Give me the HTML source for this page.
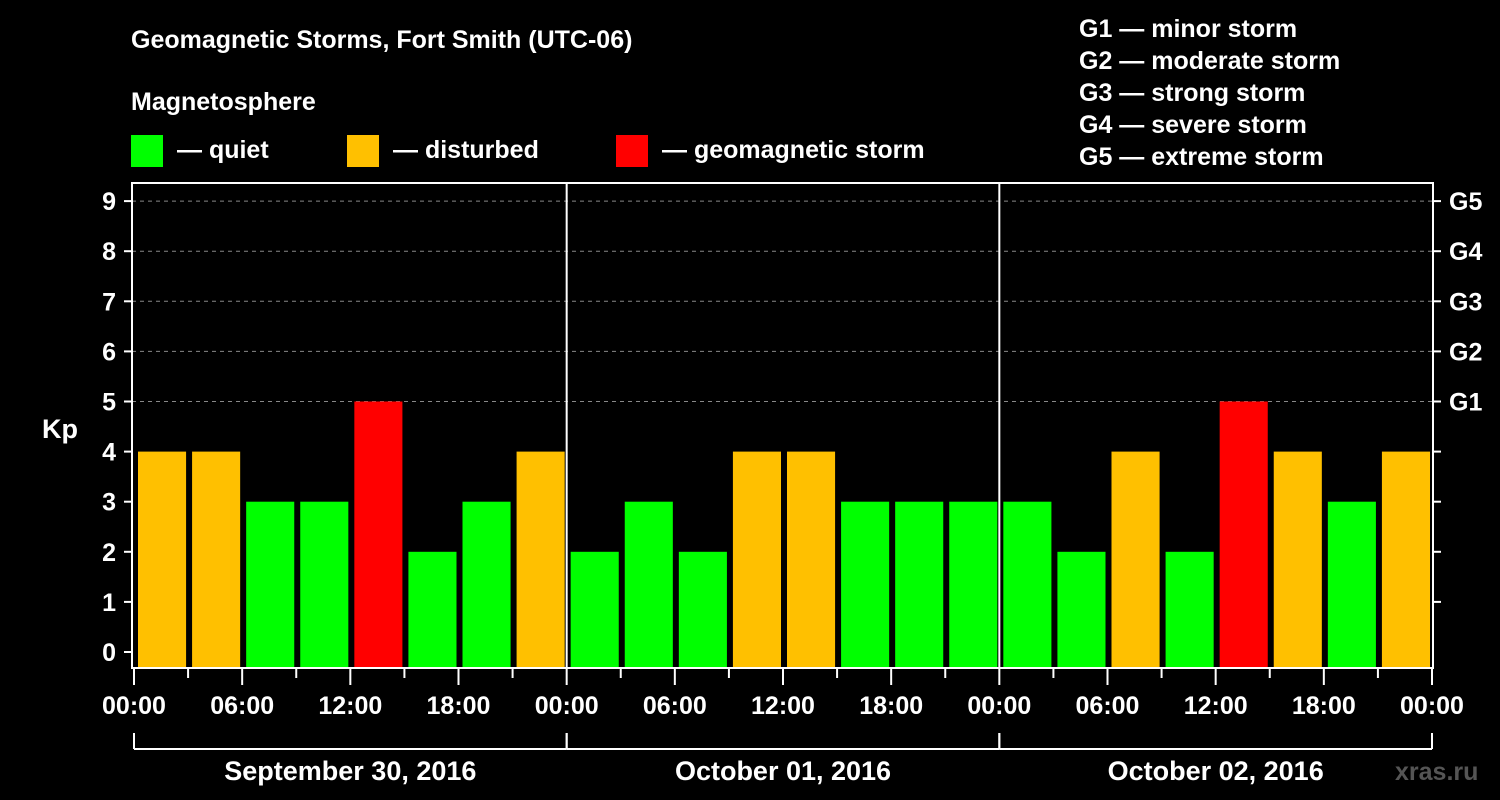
<!DOCTYPE html>
<html><head><meta charset="utf-8"><style>
html,body{margin:0;padding:0;background:#000;}
svg{display:block;font-family:"Liberation Sans",Arial,sans-serif;font-weight:bold;}
</style></head><body>
<svg id="c" width="1500" height="800" xmlns="http://www.w3.org/2000/svg">
<rect width="1500" height="800" fill="#000"/>
<text x="131" y="48" fill="#fff" font-size="25">Geomagnetic Storms, Fort Smith (UTC-06)</text>
<text x="131" y="110" fill="#fff" font-size="25">Magnetosphere</text>
<g><rect x="131" y="135" width="32" height="32" fill="#00ff00"/><text x="177" y="158" fill="#fff" font-size="25">— quiet</text></g>
<g><rect x="347" y="135" width="32" height="32" fill="#ffc000"/><text x="393" y="158" fill="#fff" font-size="25">— disturbed</text></g>
<g><rect x="616" y="135" width="32" height="32" fill="#ff0000"/><text x="662" y="158" fill="#fff" font-size="25">— geomagnetic storm</text></g>
<g fill="#fff" font-size="25">
<text x="1079" y="37">G1 — minor storm</text>
<text x="1079" y="69">G2 — moderate storm</text>
<text x="1079" y="101">G3 — strong storm</text>
<text x="1079" y="133">G4 — severe storm</text>
<text x="1079" y="165">G5 — extreme storm</text>
</g>
<text x="42" y="438" fill="#fff" font-size="27">Kp</text>
<text x="1395" y="780" fill="#555" font-size="25">xras.ru</text>
<g id="plot"></g>
</svg>
<script>
const kpValues = [4,4,3,3,5,2,3,4, 2,3,2,4,4,3,3,3, 3,2,4,2,5,4,3,4];
const dayLabels = ["September 30, 2016","October 01, 2016","October 02, 2016"];
const hourLabels = ["00:00","06:00","12:00","18:00"];
const kpTicks = [0,1,2,3,4,5,6,7,8,9];
const gLabels = ["G1","G2","G3","G4","G5"];
const NS="http://www.w3.org/2000/svg";
const g=document.getElementById('plot');
const L=132,R=1433,T=183,B=668;
const x0=134,x1=1432;
const slot=(x1-x0)/kpValues.length;
const X=i=>x0+i*slot;
const Y=k=>652-k*50.1;
function mk(tag,attrs){const e=document.createElementNS(NS,tag);for(const k in attrs)e.setAttribute(k,attrs[k]);g.appendChild(e);return e;}
// grid
for(let k=5;k<=9;k++){const e=mk('line',{x1:L,x2:R,y1:Y(k),y2:Y(k),stroke:'#888','stroke-dasharray':'4,4','stroke-width':1});

}
// bars
kpValues.forEach((v,i)=>{const col=v>=5?'#ff0000':(v>=4?'#ffc000':'#00ff00');
const e=mk('rect',{x:X(i)+4,y:Y(v),width:slot-6,height:B-Y(v),fill:col});

});
// frame
const fr=mk('rect',{x:L,y:T,width:R-L,height:B-T,fill:'none',stroke:'#fff','stroke-width':2});


const nd=dayLabels.length;
for(let d=1;d<nd;d++){const xx=X(d*8);const e=mk('line',{x1:xx,x2:xx,y1:T,y2:B,stroke:'#fff','stroke-width':2});

}
// y ticks
kpTicks.forEach(k=>{const y=Y(k);
mk('line',{x1:124,x2:L,y1:y,y2:y,stroke:'#fff','stroke-width':2});
const t=mk('text',{x:116,y:y+9,fill:'#fff','font-size':25,'text-anchor':'end'});t.textContent=k;


if(k>0)mk('line',{x1:R,x2:R+8,y1:y,y2:y,stroke:'#fff','stroke-width':2});
if(k>=5){const t2=mk('text',{x:1449,y:y+9,fill:'#fff','font-size':25});t2.textContent=gLabels[k-5];

}});
// x ticks
for(let i=0;i<=kpValues.length;i++){const xx=X(i);const major=i%2===0;
mk('line',{x1:xx,x2:xx,y1:B,y2:major?685:678,stroke:'#fff','stroke-width':2});
if(i%2===0){const t=mk('text',{x:xx,y:714,fill:'#fff','font-size':25,'text-anchor':'middle'});t.textContent=hourLabels[(i/2)%4];

}}
// day brackets
for(let d=0;d<nd;d++){const a=X(d*8),b=X((d+1)*8);
mk('line',{x1:a,x2:a,y1:733,y2:749,stroke:'#fff','stroke-width':2});
mk('line',{x1:b,x2:b,y1:733,y2:749,stroke:'#fff','stroke-width':2});
mk('line',{x1:a,x2:b,y1:749,y2:749,stroke:'#fff','stroke-width':2});
const t=mk('text',{x:(a+b)/2,y:780,fill:'#fff','font-size':27,'text-anchor':'middle'});t.textContent=dayLabels[d];

}
</script>
</body></html>
